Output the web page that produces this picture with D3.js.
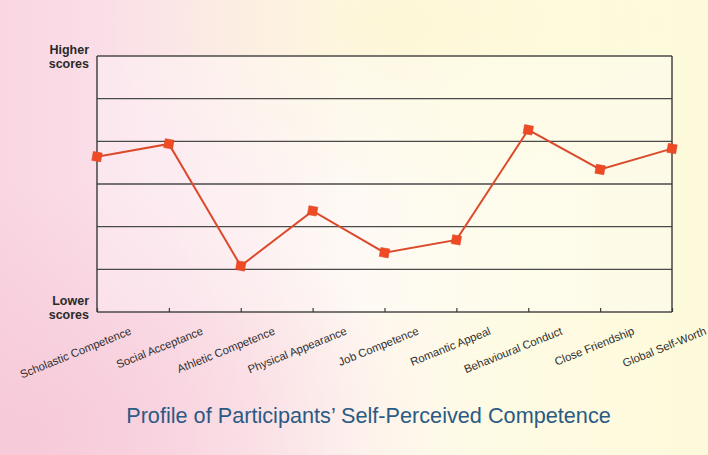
<!DOCTYPE html>
<html><head><meta charset="utf-8">
<script src="https://cdn.jsdelivr.net/npm/d3@7"></script>
<style>html,body{margin:0;padding:0;overflow:hidden;background:#fff}svg{display:block}</style>
</head><body>
<script>
const categories = ["Scholastic Competence","Social Acceptance","Athletic Competence","Physical Appearance","Job Competence","Romantic Appeal","Behavioural Conduct","Close Friendship","Global Self-Worth"];
const scores = [3.64, 3.94, 1.08, 2.37, 1.39, 1.69, 4.27, 3.34, 3.83];
const yTicks = [0,1,2,3,4,5,6];
const yTopLabel = ["Higher","scores"];
const yBottomLabel = ["Lower","scores"];
const title = "Profile of Participants\u2019 Self-Perceived Competence";

const W = 708, H = 455;
const m = {left:97, right:36, top:56, bottom:143};
const svg = d3.select("body").append("svg").attr("width",W).attr("height",H);
const defs = svg.append("defs");
const lg = defs.append("linearGradient").attr("id","bg").attr("x1","0").attr("y1","0").attr("x2","1").attr("y2","0");
[["0%","#f9d6e2"],["25%","#fbe4eb"],["50%","#fef7f0"],["70%","#fefbe4"],["100%","#fdfadb"]].forEach(s=>lg.append("stop").attr("offset",s[0]).attr("stop-color",s[1]));
const rg = defs.append("radialGradient").attr("id","bl").attr("cx","0.05").attr("cy","0.95").attr("r","0.55");
rg.append("stop").attr("offset","0%").attr("stop-color","#f6c3d4").attr("stop-opacity",0.7);
rg.append("stop").attr("offset","100%").attr("stop-color","#f6c3d4").attr("stop-opacity",0);
const rg2 = defs.append("radialGradient").attr("id","tc").attr("cx","0.55").attr("cy","0.05").attr("r","0.4");
rg2.append("stop").attr("offset","0%").attr("stop-color","#fdf6c8").attr("stop-opacity",0.6);
rg2.append("stop").attr("offset","100%").attr("stop-color","#fdf6c8").attr("stop-opacity",0);
svg.append("rect").attr("width",W).attr("height",H).attr("fill","url(#bg)");
svg.append("rect").attr("width",W).attr("height",H).attr("fill","url(#bl)");
svg.append("rect").attr("width",W).attr("height",H).attr("fill","url(#tc)");

const x = d3.scalePoint().domain(categories).range([m.left, W-m.right]);
const y = d3.scaleLinear().domain([0,6]).range([H-m.bottom, m.top]);

const g = svg.append("g");
g.append("rect").attr("x",m.left).attr("y",m.top).attr("width",W-m.right-m.left).attr("height",H-m.bottom-m.top)
  .attr("fill","#fff").attr("opacity",0.3);

// grid
g.selectAll("line.grid").data(yTicks).join("line").attr("class","grid")
  .attr("x1",m.left).attr("x2",W-m.right).attr("y1",d=>y(d)).attr("y2",d=>y(d))
  .attr("stroke","#4a4a48").attr("stroke-width",1.4);
// left & right borders
g.append("line").attr("x1",m.left).attr("x2",m.left).attr("y1",m.top).attr("y2",H-m.bottom).attr("stroke","#3a3a3a").attr("stroke-width",1.4);
g.append("line").attr("x1",W-m.right).attr("x2",W-m.right).attr("y1",m.top).attr("y2",H-m.bottom).attr("stroke","#3a3a3a").attr("stroke-width",1.4);

// x axis
const xAxis = d3.axisBottom(x).tickSizeInner(-4).tickSizeOuter(0).tickFormat("");
const ax = svg.append("g").attr("transform",`translate(0,${H-m.bottom})`).call(xAxis);
ax.select(".domain").remove();
ax.selectAll(".tick line").attr("stroke","#3a3a3a").attr("stroke-width",1.2);

// category labels
svg.append("g").selectAll("text").data(categories).join("text")
  .attr("transform",d=>`translate(${x(d)+35},${H-m.bottom+22}) rotate(-22)`)
  .attr("text-anchor","end")
  .attr("font-family","Liberation Sans, Arial, sans-serif").attr("font-size",11.3)
  .attr("fill","#2e2e2e").text(d=>d);

// y end labels
const yl = svg.append("g").attr("font-family","Liberation Sans, Arial, sans-serif").attr("font-weight","bold")
  .attr("font-size",12.5).attr("fill","#2a2a2a").attr("text-anchor","end");
yTopLabel.forEach((t,i)=>yl.append("text").attr("x",89).attr("y",y(6)-2+i*14).text(t));
yBottomLabel.forEach((t,i)=>yl.append("text").attr("x",89).attr("y",y(0)-7+i*14).text(t));

// line
const line = d3.line().x((d,i)=>x(categories[i])).y(d=>y(d));
svg.append("path").datum(scores).attr("d",line).attr("fill","none").attr("stroke","#dc4a2c").attr("stroke-width",2);
svg.append("g").selectAll("rect").data(scores).join("rect")
  .attr("x",(d,i)=>x(categories[i])-4.5).attr("y",d=>y(d)-4.5).attr("width",9).attr("height",9)
  .attr("fill","#ee4a24").attr("stroke","#e04020").attr("stroke-width",0.5)
  .attr("transform",(d,i)=>`rotate(10,${x(categories[i])},${y(d)})`);

// title
const tt = svg.append("text").attr("x",368.5).attr("y",423).attr("text-anchor","middle")
  .attr("font-family","Liberation Sans, Arial, sans-serif").attr("font-size",20)
  .attr("fill","#2b5a84").text(title);
const len = tt.node().getComputedTextLength();
tt.attr("font-size", 20*485/len);
</script>
</body></html>
